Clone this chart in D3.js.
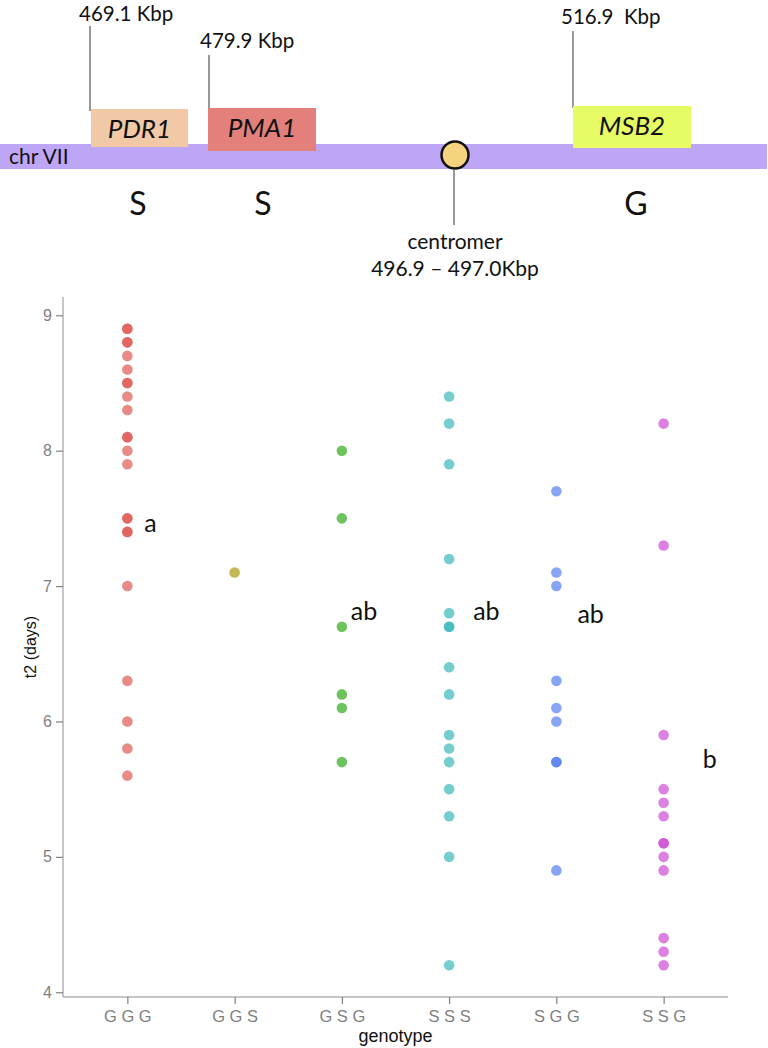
<!DOCTYPE html>
<html>
<head>
<meta charset="utf-8">
<script src="https://cdn.jsdelivr.net/npm/d3@7"></script>
<style>
  html, body { margin: 0; padding: 0; background: #fff; }
  svg { display: block; }
</style>
</head>
<body>
<svg id="chart" width="768" height="1048"></svg>
<script>
// ---------- data ----------
const genotypes = ["G G G", "G G S", "G S G", "S S S", "S G G", "S S G"];
const valuesGGG = [8.9, 8.9, 8.8, 8.8, 8.7, 8.6, 8.5, 8.5, 8.4, 8.3, 8.1, 8.1, 8.0, 7.9, 7.5, 7.5, 7.4, 7.4, 7.0, 6.3, 6.0, 5.8, 5.6];
const valuesGGS = [7.1];
const valuesGSG = [8.0, 7.5, 6.7, 6.2, 6.1, 5.7];
const valuesSSS = [8.4, 8.2, 7.9, 7.2, 6.8, 6.7, 6.7, 6.4, 6.2, 5.9, 5.8, 5.7, 5.5, 5.3, 5.0, 4.2];
const valuesSGG = [7.7, 7.1, 7.0, 6.3, 6.1, 6.0, 5.7, 5.7, 4.9];
const valuesSSG = [8.2, 7.3, 5.9, 5.5, 5.4, 5.3, 5.1, 5.1, 5.0, 4.9, 4.4, 4.3, 4.2];
const yTicks = [4, 5, 6, 7, 8, 9];
const groupLetters = ["a", "", "ab", "ab", "ab", "b"];
const letterValues = [7.4, null, 6.75, 6.75, 6.73, 5.66];

const series = [valuesGGG, valuesGGS, valuesGSG, valuesSSS, valuesSGG, valuesSSG];
const colors = ["#de5852", "#aa9b0a", "#30a91a", "#3bb8bc", "#547ef1", "#cd4cd4"];
const letterDx = [17, 0, 9, 24, 21, 39];

const svg = d3.select("#chart");

// ---------- top chromosome diagram ----------
const dia = svg.append("g");
const calib = "Lato, 'Open Sans', sans-serif";

dia.append("rect").attr("x", 0).attr("y", 144).attr("width", 767).attr("height", 25).attr("fill", "#bea6f6");
dia.append("text").attr("x", 9).attr("y", 164).attr("font-family", calib).attr("font-size", 21).attr("fill", "#111").text("chr VII");

const genes = [
  {name: "PDR1", x0: 91, x1: 188, y0: 109, y1: 147, fill: "#f2c9a6", lx: 90, ly0: 26, label: "469.1 Kbp", tx: 79, ty: 21},
  {name: "PMA1", x0: 208, x1: 316, y0: 108, y1: 151, fill: "#e3807b", lx: 209, ly0: 55, label: "479.9 Kbp", tx: 200, ty: 48},
  {name: "MSB2", x0: 573, x1: 691, y0: 106, y1: 148, fill: "#e6fb64", lx: 573, ly0: 31, label: "516.9\u00a0\u00a0Kbp", tx: 561, ty: 24}
];
genes.forEach(g => {
  dia.append("line").attr("x1", g.lx).attr("x2", g.lx).attr("y1", g.ly0).attr("y2", g.y0 + 2)
    .attr("stroke", "#333").attr("stroke-width", 1);
  dia.append("rect").attr("x", g.x0).attr("y", g.y0).attr("width", g.x1 - g.x0).attr("height", g.y1 - g.y0).attr("fill", g.fill);
  dia.append("text").attr("x", (g.x0 + g.x1) / 2).attr("y", g.y0 + 29).attr("text-anchor", "middle")
    .attr("font-family", calib).attr("font-style", "italic").attr("font-size", 26).attr("fill", "#111").text(g.name);
  dia.append("text").attr("x", g.tx).attr("y", g.ty).attr("font-family", calib).attr("font-size", 20.5)
    .attr("fill", "#111").text(g.label);
});

[["S", 138], ["S", 263], ["G", 636]].forEach(([t, xx]) => {
  dia.append("text").attr("x", xx).attr("y", 215).attr("text-anchor", "middle")
    .attr("font-family", calib).attr("font-size", 32).attr("fill", "#111").text(t);
});

dia.append("line").attr("x1", 454).attr("x2", 454).attr("y1", 170).attr("y2", 225).attr("stroke", "#333").attr("stroke-width", 1);
dia.append("circle").attr("cx", 455).attr("cy", 155).attr("r", 13.5).attr("fill", "#f6d47e").attr("stroke", "#111").attr("stroke-width", 2.5);
dia.append("text").attr("x", 455).attr("y", 249).attr("text-anchor", "middle").attr("font-family", calib).attr("font-size", 21).attr("fill", "#111").text("centromer");
dia.append("text").attr("x", 455).attr("y", 276).attr("text-anchor", "middle").attr("font-family", calib).attr("font-size", 21).attr("fill", "#111").text("496.9 \u2013 497.0Kbp");

// ---------- dot plot ----------
const pLeft = 63, pRight = 728, pTop = 297, pBottom = 997;
const x = d3.scalePoint().domain(genotypes).range([pLeft, pRight]).padding(0.6);
const y = d3.scaleLinear().domain([3.965, 9.135]).range([pBottom, pTop]);

const axisColor = "#b3b3b3";
const tickText = "#7f7f7f";
const font = "'Liberation Sans', Arial, sans-serif";

const yAxis = svg.append("g").attr("transform", `translate(${pLeft},0)`)
  .call(d3.axisLeft(y).tickValues(yTicks).tickSize(7).tickPadding(4).tickFormat(d3.format("d")));
yAxis.select(".domain").attr("stroke", axisColor).attr("stroke-width", 1.5).attr("d", `M0,${pTop}V${pBottom}`);
yAxis.selectAll(".tick line").attr("stroke", tickText).attr("stroke-width", 1.2);
yAxis.selectAll(".tick text").attr("fill", tickText).attr("font-family", font).attr("font-size", 16);

const xAxis = svg.append("g").attr("transform", `translate(0,${pBottom})`)
  .call(d3.axisBottom(x).tickSize(7).tickPadding(6));
xAxis.select(".domain").attr("stroke", axisColor).attr("stroke-width", 1.5).attr("d", `M${pLeft},0H${pRight}`);
xAxis.selectAll(".tick line").attr("stroke", tickText).attr("stroke-width", 1.2);
xAxis.selectAll(".tick text").attr("fill", tickText).attr("font-family", font).attr("font-size", 16.5);

svg.append("text").attr("x", (pLeft + pRight) / 2).attr("y", 1042).attr("text-anchor", "middle")
  .attr("font-family", font).attr("font-size", 18).attr("fill", "#111").text("genotype");
svg.append("text").attr("transform", `translate(36,${(pTop + pBottom) / 2}) rotate(-90)`).attr("text-anchor", "middle")
  .attr("font-family", font).attr("font-size", 16).attr("fill", "#111").text("t2 (days)");

const pts = [];
series.forEach((vals, i) => vals.forEach(v => pts.push({g: genotypes[i], v, i})));
svg.append("g").selectAll("circle").data(pts).join("circle")
  .attr("cx", d => x(d.g)).attr("cy", d => y(d.v)).attr("r", 5.3)
  .attr("fill", d => colors[d.i]).attr("fill-opacity", 0.7);

svg.append("g").selectAll("text").data(groupLetters.map((t, i) => ({t, i})).filter(d => d.t))
  .join("text")
  .attr("x", d => x(genotypes[d.i]) + letterDx[d.i]).attr("y", d => y(letterValues[d.i]))
  .attr("font-family", calib).attr("font-size", 25).attr("fill", "#111").text(d => d.t);
</script>
</body>
</html>
